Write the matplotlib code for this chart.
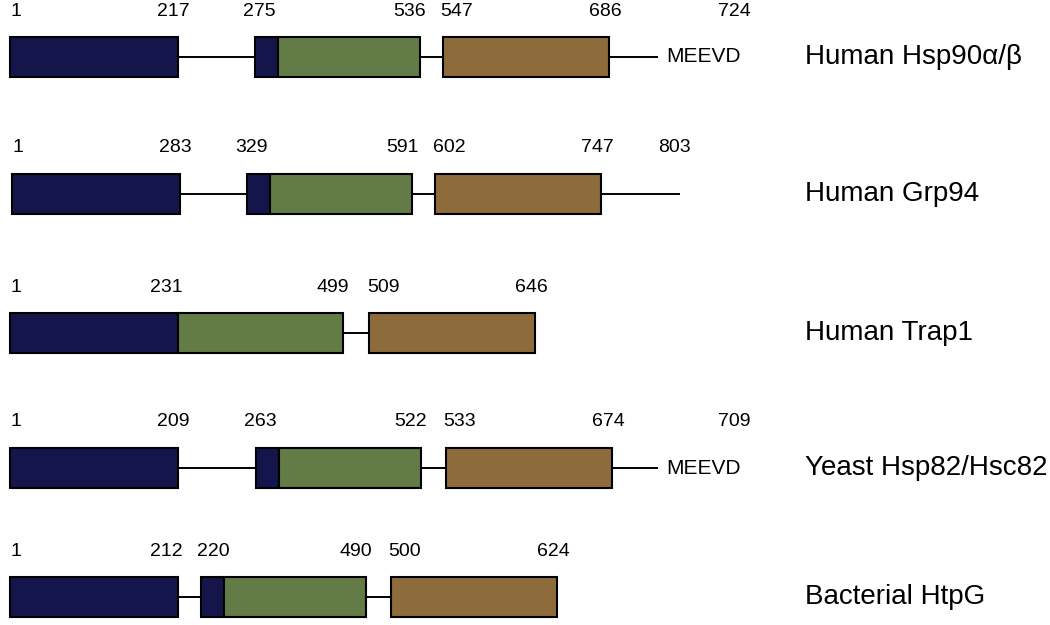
import matplotlib
matplotlib.use("Agg")
import matplotlib.pyplot as plt

plt.rcParams["font.family"] = ["Liberation Sans", "DejaVu Sans"]

# Domain boundaries (residue numbers)
names = ["Human Hsp90\u03b1/\u03b2", "Human Grp94", "Human Trap1",
         "Yeast Hsp82/Hsc82", "Bacterial HtpG"]
n_end = [217, 283, 231, 209, 212]
m_start = [275, 329, None, 263, 220]
m_end = [536, 591, 499, 522, 490]
c_start = [547, 602, 509, 533, 500]
c_end = [686, 747, 646, 674, 624]
length = [724, 803, 646, 709, 624]
motif = ["MEEVD", "", "", "MEEVD", ""]

# Schematic layout (not to scale), in pixel units
row_y = [57, 194, 333, 468, 597]
x_start = [10, 12, 10, 10, 10]
gap_nm = [77, 67, 0, 78, 23]
gap_mc = [23, 23, 26, 25, 25]
tail_w = [49, 79, 0, 46, 0]
N_W, NM_W, M_W, C_W = 168, 23, 142, 166
BOX_H = 40

navy = "#14154b"
green = "#637b46"
brown = "#8e6b3b"

fig = plt.figure(figsize=(10.5, 6.25), dpi=100)
ax = fig.add_axes([0, 0, 1, 1])
ax.set_xlim(0, 1050)
ax.set_ylim(625, 0)
ax.axis("off")

num_kw = dict(fontsize=14, ha="center", va="center")
edge = dict(edgecolor="black", linewidth=1.5)

for i, name in enumerate(names):
    y = row_y[i]
    x0 = x_start[i]
    x1 = x0 + N_W                      # end of N domain
    x2 = x1 + gap_nm[i]                # start of middle block
    if m_start[i] is not None:
        x3 = x2 + NM_W
        x4 = x3 + M_W
    else:
        x3 = x2
        x4 = x3 + M_W + NM_W
    x5 = x4 + gap_mc[i]
    x6 = x5 + C_W
    x7 = x6 + tail_w[i]

    # linkers / tail
    ax.hlines(y, x1, x2, color="black", lw=1.4, zorder=1)
    ax.hlines(y, x4, x5, color="black", lw=1.4, zorder=1)
    if tail_w[i] > 0:
        ax.hlines(y, x6, x7, color="black", lw=1.4, zorder=1)

    # domain boxes
    ax.barh(y, x1 - x0, left=x0, height=BOX_H, color=navy, **edge, zorder=2)
    if m_start[i] is not None:
        ax.barh(y, x3 - x2, left=x2, height=BOX_H, color=navy, **edge, zorder=2)
    ax.barh(y, x4 - x3, left=x3, height=BOX_H, color=green, **edge, zorder=2)
    ax.barh(y, x6 - x5, left=x5, height=BOX_H, color=brown, **edge, zorder=2)

    # residue numbers
    ly = y - 46
    tight = gap_nm[i] < 40
    ax.text(x0, ly, "1", fontsize=14, ha="left", va="center")
    ax.text(x1 - (12 if tight else 5), ly, str(n_end[i]), **num_kw)
    if m_start[i] is not None:
        ax.text(x2 + (12 if tight else 4), ly, str(m_start[i]), **num_kw)
    ax.text(x4 - 10, ly, str(m_end[i]), **num_kw)
    ax.text(x5 + 14, ly, str(c_start[i]), **num_kw)
    ax.text(x6 - 4, ly, str(c_end[i]), **num_kw)
    if tail_w[i] > 0:
        if motif[i]:
            ax.text(x7 + 76, ly, str(length[i]), **num_kw)
            ax.text(x7 + 8, y, motif[i], fontsize=15, ha="left", va="center")
        else:
            ax.text(x7 - 6, ly, str(length[i]), **num_kw)

    ax.text(805, y, name, fontsize=20, ha="left", va="center")

fig.savefig("out.png", dpi=100)
